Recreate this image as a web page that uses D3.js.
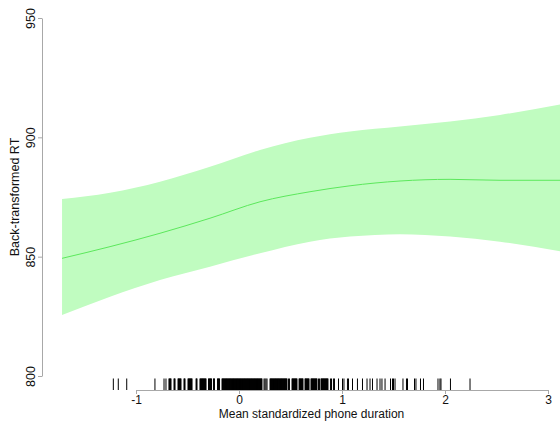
<!doctype html>
<html>
  <head>
    <meta charset="utf-8"/>
    <style>
      body { margin: 0; background: #fff; }
      text { font-family: "Liberation Sans", Arial, sans-serif; }
    </style>
  </head>
  <body>
    <script src="https://cdn.jsdelivr.net/npm/d3@7"></script>
    <script>

      // smooth term: predictor grid, fitted RT and its confidence band
      const phoneDur = [-1.718, -1.252, -0.767, -0.282, 0.204, 0.689, 1.078, 1.563, 2.049, 2.534, 3.127];
      const fitRT    = [849.3, 854.2, 859.8, 866.1, 873.0, 877.2, 879.7, 881.7, 882.4, 882.0, 882.0];
      const upperRT  = [874.2, 876.8, 881.4, 887.7, 894.7, 899.8, 902.4, 904.5, 906.6, 909.4, 913.8];
      const lowerRT  = [825.6, 833.2, 840.2, 845.8, 851.4, 856.3, 858.4, 859.4, 858.4, 856.3, 852.2];

      // observed phone durations (rug)
      const rugValues = [
        -1.220, -1.172, -1.090, -0.816,
        -0.728, -0.709, -0.680, -0.675, -0.670, -0.665, -0.660, -0.631, -0.626, -0.621, -0.592,
        -0.587, -0.583, -0.578, -0.573, -0.568, -0.563, -0.534, -0.529, -0.524, -0.495, -0.490,
        -0.485, -0.480, -0.476, -0.471, -0.466, -0.461, -0.456, -0.417, -0.412, -0.408, -0.379,
        -0.374, -0.369, -0.364, -0.359, -0.354, -0.350, -0.345, -0.340, -0.335, -0.330, -0.325,
        -0.320, -0.296, -0.291, -0.286, -0.281, -0.277, -0.272, -0.267, -0.248, -0.243, -0.238,
        -0.209, -0.204, -0.199, -0.194, -0.189,
        -0.165, -0.160, -0.155, -0.151, -0.146, -0.141, -0.136, -0.131, -0.126, -0.121, -0.117,
        -0.112, -0.107, -0.102, -0.097, -0.092, -0.087, -0.083, -0.078, -0.073, -0.068, -0.063,
        -0.058, -0.053, -0.049, -0.044, -0.039, -0.034, -0.029, -0.024, -0.019, -0.015, -0.010,
        -0.005, 0.000, 0.005, 0.010, 0.015, 0.019, 0.024, 0.029, 0.034, 0.039, 0.044, 0.049,
        0.053, 0.058, 0.063, 0.068, 0.073, 0.078, 0.083, 0.087, 0.092, 0.097, 0.102, 0.107,
        0.112, 0.117, 0.121, 0.126, 0.131, 0.136, 0.141, 0.146, 0.151, 0.155, 0.160, 0.165,
        0.170, 0.175, 0.180, 0.184, 0.189, 0.194, 0.199, 0.204, 0.209, 0.214, 0.218, 0.223,
        0.243, 0.252, 0.262, 0.272,
        0.301, 0.306, 0.311, 0.316, 0.320, 0.325, 0.330, 0.335, 0.340, 0.345, 0.350, 0.354,
        0.359, 0.364, 0.369, 0.374, 0.379, 0.383, 0.388, 0.393, 0.398, 0.403, 0.408, 0.413,
        0.417, 0.422, 0.427, 0.432, 0.437, 0.442, 0.447, 0.451, 0.456, 0.461, 0.466, 0.481, 0.490,
        0.515, 0.519, 0.524, 0.529, 0.534, 0.539, 0.544, 0.549, 0.553, 0.558, 0.563, 0.583,
        0.588, 0.592, 0.597, 0.602, 0.607, 0.612, 0.617, 0.621,
        0.641, 0.646, 0.650, 0.655, 0.660, 0.665, 0.670, 0.675, 0.680, 0.699, 0.704, 0.709,
        0.714, 0.718, 0.723, 0.728, 0.733, 0.738, 0.743, 0.748, 0.752, 0.757,
        0.772, 0.782, 0.796, 0.801, 0.806, 0.811, 0.816, 0.820, 0.825, 0.830, 0.835, 0.840,
        0.845, 0.850, 0.854, 0.859, 0.864,
        0.888, 0.898, 0.917, 0.927, 0.966, 1.005, 1.019, 1.053, 1.063, 1.102, 1.150, 1.199,
        1.243, 1.272, 1.296, 1.340, 1.369, 1.388, 1.418, 1.471, 1.490, 1.500, 1.515, 1.592,
        1.626, 1.636, 1.704, 1.718, 1.762, 1.791, 1.932, 1.951, 1.961, 2.053, 2.243
      ];

      const xTicks = [-1, 0, 1, 2, 3];
      const yTicks = [800, 850, 900, 950];
      const xTitle = 'Mean standardized phone duration';
      const yTitle = 'Back-transformed RT';

      const width = 560, height = 424;
      const plotLeft = 42, plotRight = 581, plotTop = 4, plotBottom = 390;

      const x = d3.scaleLinear().domain([-1, 3]).range([136, 548]);
      const y = d3.scaleLinear().domain([800, 950]).range([376, 18]);

      const svg = d3.select('body').append('svg')
            .attr('width', width)
            .attr('height', height);

      svg.append('defs').append('clipPath')
        .attr('id', 'plotClip')
        .append('rect')
        .attr('x', plotLeft)
        .attr('y', plotTop)
        .attr('width', plotRight - plotLeft)
        .attr('height', plotBottom - plotTop);

      const rows = phoneDur.map((d, i) => ({
        x: d, fit: fitRT[i], hi: upperRT[i], lo: lowerRT[i]
      }));

      const plot = svg.append('g').attr('clip-path', 'url(#plotClip)');

      plot.append('path')
        .datum(rows)
        .attr('fill', '#c0fcc0')
        .attr('d', d3.area()
              .curve(d3.curveMonotoneX)
              .x(d => x(d.x))
              .y0(d => y(d.lo))
              .y1(d => y(d.hi)));

      plot.append('path')
        .datum(rows)
        .attr('fill', 'none')
        .attr('stroke', '#5ce85c')
        .attr('stroke-width', 1)
        .attr('d', d3.line()
              .curve(d3.curveMonotoneX)
              .x(d => x(d.x))
              .y(d => y(d.fit)));

      // rug along the bottom edge
      plot.append('g')
        .selectAll('line')
        .data(rugValues)
        .join('line')
        .attr('x1', d => x(d))
        .attr('x2', d => x(d))
        .attr('y1', plotBottom - 11.5)
        .attr('y2', plotBottom)
        .attr('stroke', '#000')
        .attr('stroke-width', 1);

      const axisColor = '#a8a8a8';

      const xAxis = svg.append('g')
            .attr('transform', `translate(0,${plotBottom})`)
            .call(d3.axisBottom(x).tickValues(xTicks).tickSize(4).tickSizeOuter(0)
                  .tickFormat(d => String(d)));

      xAxis.selectAll('text')
        .attr('y', 5)
        .attr('dy', '0.71em')
        .style('font-size', '12px');

      const yAxis = svg.append('g')
            .attr('transform', `translate(${plotLeft},0)`)
            .call(d3.axisLeft(y).tickValues(yTicks).tickSize(4).tickSizeOuter(0));

      yAxis.selectAll('text')
        .attr('x', 0)
        .attr('y', -7)
        .attr('dy', 0)
        .attr('text-anchor', 'middle')
        .attr('transform', 'rotate(-90)')
        .style('font-size', '12.5px');

      for (const ax of [xAxis, yAxis]) {
        ax.attr('font-family', null).attr('font-size', null);
        ax.select('.domain').attr('stroke', axisColor);
        ax.selectAll('.tick line').attr('stroke', axisColor);
        ax.selectAll('text').attr('fill', '#111');
      }

      svg.append('text')
        .attr('x', (plotLeft + plotRight) / 2)
        .attr('y', 418)
        .attr('text-anchor', 'middle')
        .style('font-size', '12px')
        .attr('fill', '#111')
        .text(xTitle);

      svg.append('text')
        .attr('transform', `translate(19,${(plotTop + plotBottom) / 2}) rotate(-90)`)
        .attr('text-anchor', 'middle')
        .style('font-size', '12.5px')
        .attr('fill', '#111')
        .text(yTitle);

    </script>
  </body>
</html>
